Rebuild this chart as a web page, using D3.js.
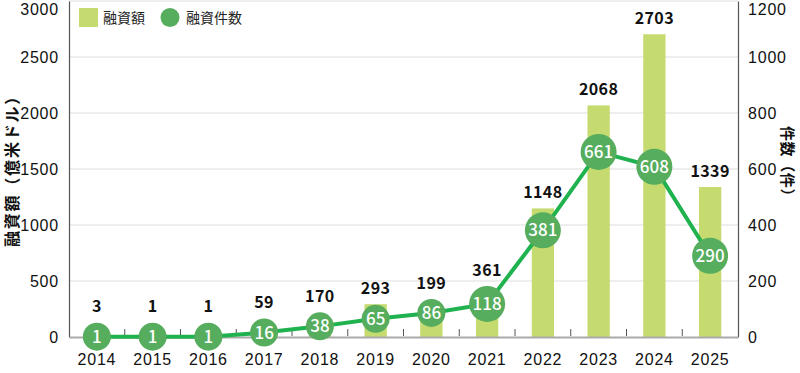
<!DOCTYPE html>
<html>
<head>
<meta charset="utf-8">
<script src="https://cdn.jsdelivr.net/npm/d3@7"></script>
<style>
  body { margin: 0; background: #fff; }
  svg { display: block; font-family: "Noto Sans CJK JP", "Noto Sans", sans-serif; }
</style>
</head>
<body>
<div id="chart"></div>
<script>
/* Data */

var YEARS   = ["2014","2015","2016","2017","2018","2019","2020","2021","2022","2023","2024","2025"];
var AMOUNTS = [3, 1, 1, 59, 170, 293, 199, 361, 1148, 2068, 2703, 1339];
var COUNTS  = [1, 1, 1, 16, 38, 65, 86, 118, 381, 661, 608, 290];

var LEFT_TICKS  = [0, 500, 1000, 1500, 2000, 2500, 3000];
var RIGHT_TICKS = [0, 200, 400, 600, 800, 1000, 1200];

var LEFT_TITLE  = "融資額（億米ドル）",
    RIGHT_TITLE = "件数（件）",
    LEGEND      = ["融資額", "融資件数"];

/* Measures */

var W = 800,
    H = 373;

var PLOT = { left: 69, right: 738, top: 1, bottom: 337 };

var BAR_COLOR    = "#c5db70",
    DOT_COLOR    = "#56ad5e",
    LINE_COLOR   = "#1fb24f",
    GRID_COLOR   = "#dedede",
    TEXT_COLOR   = "#111";

var svg = d3.select("#chart").append("svg")
    .attr("width", W)
    .attr("height", H);

var x = d3.scaleBand()
    .domain(YEARS)
    .range([PLOT.left, PLOT.right])
    .paddingInner(0.6)
    .paddingOuter(0.3);

var yL = d3.scaleLinear().domain([0, 3000]).range([PLOT.bottom, PLOT.top]);
var yR = d3.scaleLinear().domain([0, 1200]).range([PLOT.bottom, PLOT.top]);

function cx(d) { return x(d) + x.bandwidth() / 2; }
function radius(v) { return String(v).length >= 3 ? 18 : 14; }

/* grid */
svg.append("g").selectAll("line")
    .data(LEFT_TICKS.slice(1))
    .enter().append("line")
    .attr("x1", PLOT.left).attr("x2", PLOT.right)
    .attr("y1", function(d) { return yL(d); })
    .attr("y2", function(d) { return yL(d); })
    .attr("stroke", GRID_COLOR)
    .attr("stroke-width", 1.2);

/* bars */
svg.append("g").selectAll("rect")
    .data(YEARS)
    .enter().append("rect")
    .attr("x", function(d) { return x(d); })
    .attr("width", x.bandwidth())
    .attr("y", function(d, i) { return yL(AMOUNTS[i]); })
    .attr("height", function(d, i) { return PLOT.bottom - yL(AMOUNTS[i]); })
    .attr("fill", BAR_COLOR);

/* axes */
var leftAxis = svg.append("g")
    .attr("transform", "translate(" + PLOT.left + ",0)")
    .call(d3.axisLeft(yL).tickValues(LEFT_TICKS).tickFormat(d3.format("d")).tickSize(0).tickPadding(10));

var rightAxis = svg.append("g")
    .attr("transform", "translate(" + PLOT.right + ",0)")
    .call(d3.axisRight(yR).tickValues(RIGHT_TICKS).tickFormat(d3.format("d")).tickSize(0).tickPadding(10));

[leftAxis, rightAxis].forEach(function(a) {
    a.select(".domain").attr("stroke", "#555").attr("stroke-width", 1.2);
    a.selectAll("text")
        .attr("fill", TEXT_COLOR)
        .style("font-size", "16px")
        .style("font-weight", 500)
        .style("letter-spacing", "0.8px");
    // top label sits just inside the frame
    a.selectAll(".tick").filter(function(d, i, n) { return i === n.length - 1; })
        .select("text").attr("y", 8);
});

/* baseline + category ticks */
var bottomAxis = svg.append("g")
    .attr("transform", "translate(0," + PLOT.bottom + ")")
    .call(d3.axisBottom(x).tickSize(0).tickPadding(17));
bottomAxis.select(".domain").attr("stroke", "#aaa").attr("stroke-width", 2);
bottomAxis.selectAll("text")
    .attr("fill", TEXT_COLOR)
    .style("font-size", "16px")
    .style("font-weight", 500)
    .style("letter-spacing", "0.8px");

svg.append("g").selectAll("line")
    .data(YEARS.slice(1))
    .enter().append("line")
    .attr("x1", function(d) { return x(d) - x.step() * x.paddingInner() / 2; })
    .attr("x2", function(d) { return x(d) - x.step() * x.paddingInner() / 2; })
    .attr("y1", PLOT.bottom - 1)
    .attr("y2", PLOT.bottom - 8)
    .attr("stroke", "#555")
    .attr("stroke-width", 1);

/* line */
var line = d3.line()
    .x(function(d) { return cx(d); })
    .y(function(d, i) { return yR(COUNTS[i]); });

svg.append("path")
    .datum(YEARS)
    .attr("d", line)
    .attr("fill", "none")
    .attr("stroke", LINE_COLOR)
    .attr("stroke-width", 4);

/* dots */
var dots = svg.append("g").selectAll("g")
    .data(YEARS)
    .enter().append("g")
    .attr("transform", function(d, i) {
        return "translate(" + cx(d) + "," + yR(COUNTS[i]) + ")";
    });

dots.append("circle")
    .attr("r", function(d, i) { return radius(COUNTS[i]); })
    .attr("fill", DOT_COLOR);

dots.append("text")
    .attr("text-anchor", "middle")
    .attr("dy", "0.36em")
    .attr("fill", "#fff")
    .style("font-size", "17px")
    .style("font-weight", 500)
    .text(function(d, i) { return COUNTS[i]; });

/* bar labels */
svg.append("g").selectAll("text")
    .data(YEARS)
    .enter().append("text")
    .attr("x", function(d) { return cx(d); })
    .attr("y", function(d, i) {
        var top = Math.min(yL(AMOUNTS[i]), yR(COUNTS[i]) - radius(COUNTS[i]));
        return top - 16;
    })
    .attr("dy", "0.36em")
    .attr("text-anchor", "middle")
    .attr("fill", TEXT_COLOR)
    .style("font-size", "16px")
    .style("font-weight", 700)
    .style("letter-spacing", "0.4px")
    .text(function(d, i) { return AMOUNTS[i]; });

/* axis titles */
svg.append("text")
    .attr("transform", "translate(12,167) rotate(-90)")
    .attr("text-anchor", "middle")
    .attr("dy", "0.36em")
    .attr("fill", TEXT_COLOR)
    .style("font-size", "16px")
    .style("font-weight", 700)
    .style("letter-spacing", "1.8px")
    .text(LEFT_TITLE);

svg.append("text")
    .attr("transform", "translate(787,165) rotate(90)")
    .attr("text-anchor", "middle")
    .attr("dy", "0.36em")
    .attr("fill", TEXT_COLOR)
    .style("font-size", "15px")
    .style("font-weight", 700)
    .style("letter-spacing", "0.6px")
    .text(RIGHT_TITLE);

/* legend */
var legend = svg.append("g");
legend.append("rect")
    .attr("x", 79).attr("y", 8)
    .attr("width", 19).attr("height", 19)
    .attr("fill", BAR_COLOR);
legend.append("text")
    .attr("x", 103).attr("y", 17.5)
    .attr("dy", "0.36em")
    .attr("fill", "#222")
    .style("font-size", "14px")
    .text(LEGEND[0]);
legend.append("circle")
    .attr("cx", 170).attr("cy", 17.5)
    .attr("r", 9.5)
    .attr("fill", DOT_COLOR);
legend.append("text")
    .attr("x", 186).attr("y", 17.5)
    .attr("dy", "0.36em")
    .attr("fill", "#222")
    .style("font-size", "14px")
    .text(LEGEND[1]);
</script>
</body>
</html>
